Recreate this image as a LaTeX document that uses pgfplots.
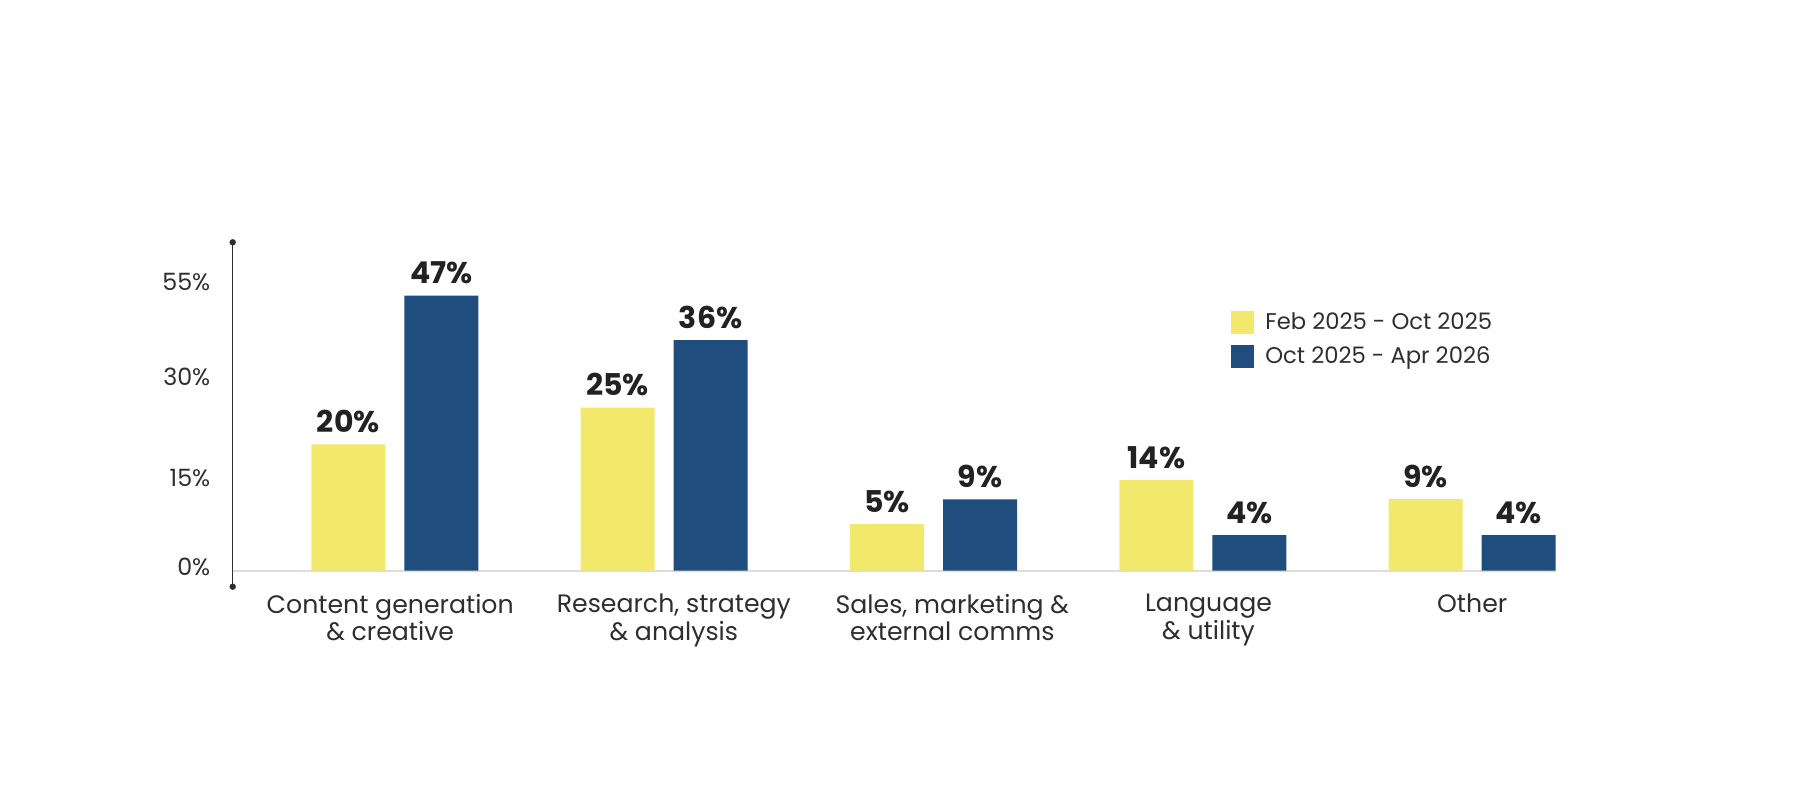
\documentclass[border=0pt]{standalone}
\usepackage{pgfplots}
\pgfplotsset{compat=1.18}
\usepackage{pgfplotstable}
\usepackage{fontspec}
\setmainfont{Poppins}
\definecolor{cyellow}{HTML}{F2E86C}
\definecolor{cblue}{HTML}{1F4E7E}
\definecolor{ctext}{HTML}{2E2E2E}
\definecolor{cbold}{HTML}{222222}
\definecolor{cbase}{HTML}{DCDCDC}

% bar heights as drawn (the chart's own y scale is not linear), with the printed values
\pgfplotstableread{
x hA labA hB labB
0 126.4 20 275.0 47
1 163.0 25 230.7 36
2 46.7 5 71.4 9
3 90.7 14 35.7 4
4 71.7 9 35.7 4
}\datatable

\begin{document}
\begin{tikzpicture}
\useasboundingbox (-116.35pt,-106.65pt) rectangle (783.65pt,293.35pt);
\begin{axis}[
  at={(0,0)}, anchor=south west,
  scale only axis,
  width=661.65pt, height=172.2pt,
  xmin=-0.6018, xmax=4.311,
  ymin=-16, ymax=328.4,
  clip=false,
  axis line style={draw=none},
  major tick length=0pt,
  ybar=9.5pt, bar width=37pt,
  xtick={-0.017,1.036,2.07,3.021,4},
  xticklabels={{Content generation\\\& creative},{Research, strategy\\\& analysis},{Sales, marketing \&\\external comms},{Language\\\& utility},{Other}},
  xticklabel style={align=center, inner sep=0pt, anchor=north, yshift=-3.6pt,
    font=\fontsize{12.6pt}{13.7pt}\selectfont, text=ctext},
  ytick={4,92.4,194,289},
  yticklabels={0\%,15\%,30\%,55\%},
  yticklabel style={inner sep=0pt, anchor=east, xshift=-11pt,
    font=\fontsize{11.9pt}{13.7pt}\selectfont, text=ctext},
  point meta=explicit symbolic,
  nodes near coords={\pgfplotspointmeta\%},
  every node near coord/.append style={anchor=south, inner sep=0pt, yshift=5.5pt,
    font=\fontsize{15pt}{18pt}\selectfont\bfseries, text=cbold},
  legend style={draw=none, fill=none, at={(0.7542,0.8014)}, anchor=north west,
    inner sep=0pt, nodes={inner sep=0pt}, row sep=5.6pt,
    font=\fontsize{11.35pt}{13pt}\selectfont, text=ctext,
    /tikz/every odd column/.append style={column sep=5.5pt}},
  legend cell align=left,
  legend image code/.code={\fill[#1] (0pt,-5.45pt) rectangle (11.6pt,5.85pt);},
]
\draw[cbase, line width=0.8pt] (axis cs:-0.6018,0) -- (axis cs:4.311,0);
\addplot[fill=cyellow, draw=none] table[x=x, y=hA, meta=labA] {\datatable};
\addplot[fill=cblue, draw=none] table[x=x, y=hB, meta=labB] {\datatable};
\legend{Feb 2025 - Oct 2025, Oct 2025 - Apr 2026}
\draw[ctext, line width=0.75pt] (rel axis cs:0,0) -- (rel axis cs:0,1);
\fill[ctext] (rel axis cs:0,0) circle (1.6pt);
\fill[ctext] (rel axis cs:0,1) circle (1.6pt);
\end{axis}
\end{tikzpicture}
\end{document}
